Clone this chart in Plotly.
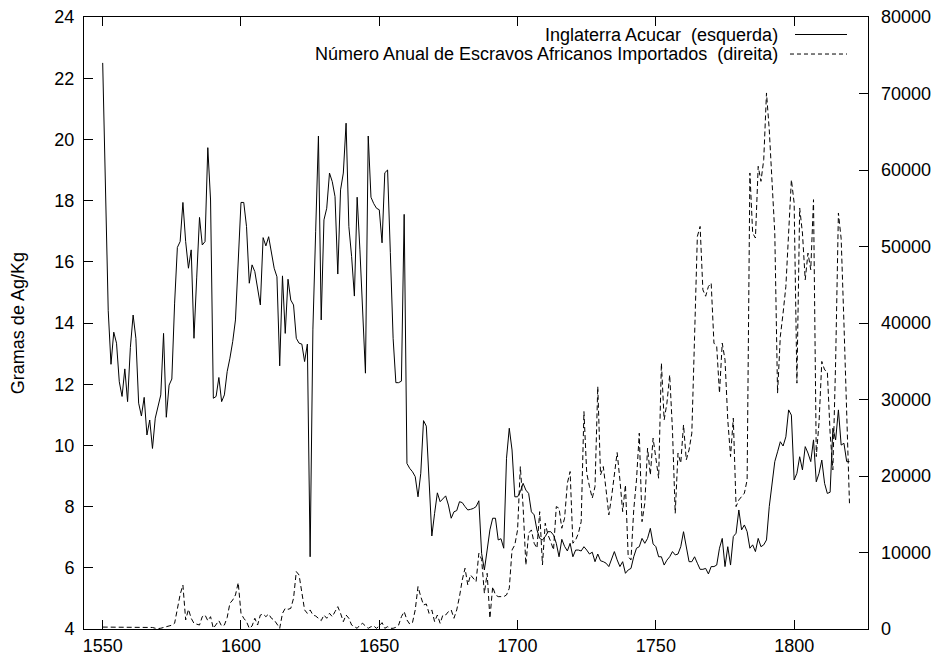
import plotly.graph_objects as go

# Annual series, 1550-1820
years = list(range(1550, 1821))

# England sugar price, grams of silver per kg (left axis)
sugar_price = [
    22.5, 18.0, 14.4, 12.65, 13.7, 13.34, 12.08, 11.6, 12.5, 11.43,      # 1550
    13.2, 14.26, 13.5, 11.38, 10.96, 11.57, 10.34, 10.83, 9.9, 10.89,    # 1560
    11.27, 11.65, 13.66, 10.92, 11.97, 12.17, 14.65, 16.47, 16.66, 17.94,  # 1570
    16.66, 15.79, 16.39, 13.5, 15.5, 17.45, 16.55, 16.66, 19.73, 18.02,  # 1580
    11.54, 11.6, 12.22, 11.43, 11.65, 12.41, 12.85, 13.39, 14.1, 15.84,  # 1590
    17.94, 17.94, 17.15, 15.3, 15.9, 15.68, 15.19, 14.59, 16.79, 16.52,  # 1600
    16.82, 16.28, 15.79, 15.51, 12.6, 15.54, 13.66, 15.43, 14.75, 14.59,  # 1610
    13.5, 13.34, 13.31, 12.74, 13.31, 6.36, 13.8, 17.0, 20.11, 14.1,     # 1620
    17.37, 17.75, 18.9, 18.62, 18.13, 15.6, 18.35, 18.9, 20.53, 17.15,   # 1630
    16.17, 14.88, 18.11, 16.39, 14.5, 12.36, 20.11, 18.11, 17.9, 17.75,  # 1640
    17.7, 16.62, 18.91, 19.0, 16.3, 13.5, 12.05, 12.05, 12.1, 17.55,     # 1650
    9.41, 9.25, 9.14, 8.98, 8.32, 9.09, 10.81, 10.63, 8.87, 7.04,        # 1660
    7.78, 8.45, 8.16, 8.24, 8.35, 8.05, 7.62, 7.83, 7.87, 8.16,          # 1670
    8.13, 8.0, 7.89, 7.91, 7.94, 8.0, 8.19, 6.47, 5.93, 6.58,            # 1680
    7.24, 7.62, 7.62, 6.91, 6.95, 6.64, 9.58, 10.56, 9.85, 8.32,         # 1690
    8.32, 8.49, 8.76, 8.54, 8.43, 7.83, 7.73, 7.24, 6.96, 6.91,          # 1700
    7.02, 7.18, 7.18, 7.07, 6.8, 6.36, 6.93, 6.7, 6.55, 6.8,             # 1710
    6.36, 6.58, 6.58, 6.55, 6.69, 6.58, 6.45, 6.51, 6.2, 6.45,           # 1720
    6.23, 6.2, 6.15, 6.04, 6.31, 6.53, 6.26, 6.04, 6.2, 5.82,            # 1730
    5.93, 5.98, 6.36, 6.64, 6.69, 6.96, 6.8, 6.96, 7.29, 6.78,           # 1740
    6.69, 6.36, 6.36, 6.09, 6.25, 6.36, 6.53, 6.42, 6.45, 6.69,          # 1750
    7.18, 6.64, 6.2, 6.2, 6.36, 6.15, 5.95, 5.95, 5.98, 5.8,             # 1760
    6.04, 6.04, 6.09, 6.64, 6.96, 6.04, 6.69, 6.09, 7.02, 7.13,          # 1770
    7.89, 7.24, 7.4, 7.18, 6.64, 6.75, 6.53, 6.96, 6.69, 6.75,           # 1780
    6.91, 8.0, 8.65, 9.47, 9.79, 10.12, 9.98, 10.28, 11.16, 10.99,       # 1790
    8.87, 9.09, 9.63, 9.2, 9.96, 9.75, 9.47, 10.18, 8.81, 9.09,          # 1800
    9.52, 8.76, 8.43, 8.47, 10.56, 10.18, 11.16, 10.01, 10.07, 9.47,     # 1810
    9.47,                                                                # 1820
]

# Annual number of imported African slaves (right axis)
slaves = [
    250, 250, 250, 250, 250, 250, 250, 250, 250, 250,                    # 1550
    250, 250, 250, 250, 250, 250, 250, 250, 200, 100,                    # 1560
    50, 100, 150, 300, 400, 500, 750, 2500, 4500, 5750,                  # 1570
    1180, 2570, 1400, 740, 650, 520, 1610, 1830, 1090, 1610,             # 1580
    90, 650, 1090, 390, 520, 1500, 3360, 3790, 4450, 6060,               # 1590
    2050, 1400, 960, 90, 390, 1400, 520, 1830, 1960, 1610,               # 1600
    1960, 1400, 1180, 650, 90, 2050, 2700, 2570, 2700, 4010,             # 1610
    7500, 7060, 4880, 2490, 2050, 2490, 1830, 1700, 1400, 1090,          # 1620
    1830, 1400, 2050, 1610, 2270, 2920, 2050, 960, 1830, 1400,           # 1630
    520, 300, 90, 520, 740, 390, 90, 300, 390, 90,                       # 1640
    390, 830, 90, 300, 90, 90, 220, 520, 1610, 2270,                     # 1650
    1180, 650, 830, 2500, 5540, 4230, 3140, 3270, 2050, 2490,            # 1660
    960, 1830, 740, 1830, 1830, 2270, 2490, 1400, 2490, 4230,            # 1670
    6410, 7940, 5760, 7060, 6630, 6190, 9900, 9100, 4670, 7280,          # 1680
    1400, 5530, 4450, 4230, 4230, 4230, 4450, 5320, 10330, 10990,        # 1690
    12950, 21230, 16000, 8370, 12520, 12950, 11210, 10560, 15340, 8370,  # 1700
    13830, 12300, 11420, 10330, 16000, 15790, 13170, 14480, 19060, 20580,  # 1710
    11210, 11640, 12520, 14030, 28420, 20370, 18610, 17100, 18610, 31690,  # 1720
    20140, 21230, 18180, 14910, 17300, 19930, 23060, 19490, 15340, 18840,  # 1730
    9460, 9030, 15570, 19490, 25600, 14030, 16440, 23640, 20140, 24940,  # 1740
    22330, 19710, 34750, 27340, 29520, 33220, 26030, 15130, 22980, 21670,  # 1750
    26680, 22110, 23410, 25600, 38240, 51310, 52620, 44340, 43500, 44770,  # 1760
    45220, 37370, 36930, 30830, 37370, 35190, 27340, 22540, 27560, 16000,  # 1770
    16870, 17300, 17750, 19490, 59610, 51760, 51110, 60480, 58520, 61350,  # 1780
    70070, 65270, 57860, 51760, 30830, 38240, 41300, 44770, 51760, 58730,  # 1790
    55680, 32140, 55030, 51760, 45650, 49140, 46960, 56120, 22540, 27000,  # 1800
    34970, 33880, 33660, 25600, 20800, 35000, 54380, 51000, 40000, 28000,  # 1810
    16440,                                                               # 1820
]

x_ticks = [1550, 1600, 1650, 1700, 1750, 1800]
sugar_name = "Inglaterra Acucar  (esquerda)"
slaves_name = "Número Anual de Escravos Africanos Importados  (direita)"
left_title = "Gramas de Ag/Kg"

FONT = "Liberation Sans, Arial, Helvetica, sans-serif"
INK = "#000000"
TEXT_SIZE = 18

fig = go.Figure()
fig.add_trace(go.Scatter(
    x=years, y=sugar_price, name=sugar_name, mode="lines",
    line=dict(color=INK, width=1), yaxis="y",
))
fig.add_trace(go.Scatter(
    x=years, y=slaves, name=slaves_name, mode="lines",
    line=dict(color=INK, width=1, dash="5px,3px"), yaxis="y2",
))

axis_common = dict(
    showgrid=False, zeroline=False, ticks="inside", ticklen=9,
    tickcolor=INK, tickwidth=1, linecolor=INK, linewidth=1,
    automargin=False,
    tickfont=dict(family=FONT, size=TEXT_SIZE, color=INK),
)

fig.update_layout(
    width=939, height=659,
    margin=dict(l=84, r=71, t=17, b=30, autoexpand=False),
    paper_bgcolor="white", plot_bgcolor="white",
    showlegend=False,
    font=dict(family=FONT, size=TEXT_SIZE, color=INK),
    xaxis=dict(range=[1543.24, 1826.7], tickvals=x_ticks, showline=True,
               mirror="ticks", ticklabelstandoff=0, **axis_common),
    yaxis=dict(range=[4, 24], dtick=2, tick0=4, showline=True, mirror=True,
               ticklabelstandoff=5, **axis_common),
    yaxis2=dict(range=[0, 80000], dtick=10000, tick0=0, overlaying="y",
                side="right", showline=False, tickformat="d",
                ticklabelstandoff=12, **axis_common),
)

# Left axis title
fig.add_annotation(
    text=left_title, xref="paper", yref="paper", x=-0.084, y=0.5,
    xanchor="center", yanchor="middle", textangle=-90, showarrow=False,
    font=dict(family=FONT, size=TEXT_SIZE, color=INK),
)

# Key in the upper right corner: label text followed by a line sample
key_rows = [
    (sugar_name, dict(color=INK, width=1), 0.9714, 0.9069),
    (slaves_name, dict(color=INK, width=1, dash="4px,3px"), 0.9395, 0.9005),
]
for label, style, ky, x0 in key_rows:
    fig.add_annotation(
        text=label, xref="paper", yref="paper", x=0.8878, y=ky,
        xanchor="right", yanchor="middle", showarrow=False,
        font=dict(family=FONT, size=TEXT_SIZE, color=INK),
    )
    fig.add_shape(type="line", xref="paper", yref="paper",
                  x0=x0, x1=0.9732, y0=ky, y1=ky, line=style)

fig.write_html("out.html")
